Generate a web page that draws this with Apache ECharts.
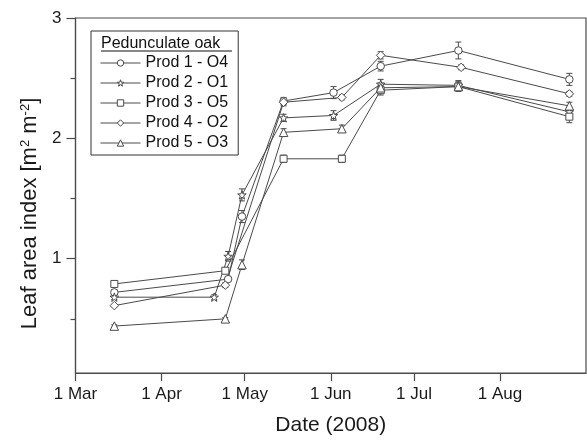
<!DOCTYPE html>
<html>
<head>
<meta charset="utf-8">
<script src="https://cdn.jsdelivr.net/npm/echarts@6/dist/echarts.min.js"></script>
<style>
  html, body { margin: 0; padding: 0; background: #fff; }
  #chart { width: 587px; height: 441px; }
</style>
</head>
<body>
<div id="chart"></div>
<script>
// Leaf area index of pedunculate oak, five productivity plots, season 2008

const seriesNames = ['Prod 1 - O4', 'Prod 2 - O1', 'Prod 3 - O5', 'Prod 4 - O2', 'Prod 5 - O3'];

const prod1Dates  = ['2008-03-15', '2008-04-25', '2008-04-30', '2008-05-15', '2008-06-02', '2008-06-19', '2008-07-17', '2008-08-26'];
const prod1Values = [0.72, 0.83, 1.35, 2.31, 2.38, 2.60, 2.73, 2.49];
const prod1Err    = [0.02, 0.02, 0.05, 0.03, 0.05, 0.04, 0.07, 0.05];

const prod2Dates  = ['2008-03-15', '2008-04-20', '2008-04-25', '2008-04-30', '2008-05-15', '2008-06-02', '2008-06-19', '2008-07-17', '2008-08-26'];
const prod2Values = [0.68, 0.68, 1.02, 1.53, 2.17, 2.19, 2.45, 2.44, 2.22];
const prod2Err    = [0.02, 0.02, 0.04, 0.05, 0.03, 0.04, 0.04, 0.04, 0.04];

const prod3Dates  = ['2008-03-15', '2008-04-24', '2008-05-15', '2008-06-05', '2008-06-19', '2008-07-17', '2008-08-26'];
const prod3Values = [0.79, 0.90, 1.83, 1.83, 2.40, 2.43, 2.18];
const prod3Err    = [0.01, 0.02, 0.03, 0.03, 0.04, 0.04, 0.05];

const prod4Dates  = ['2008-03-15', '2008-04-24', '2008-05-15', '2008-06-05', '2008-06-19', '2008-07-18', '2008-08-26'];
const prod4Values = [0.61, 0.78, 2.30, 2.34, 2.69, 2.59, 2.37];
const prod4Err    = [0.01, 0.02, 0.03, 0.02, 0.03, 0.02, 0.02];

const prod5Dates  = ['2008-03-15', '2008-04-24', '2008-04-30', '2008-05-15', '2008-06-05', '2008-06-19', '2008-07-17', '2008-08-26'];
const prod5Values = [0.44, 0.50, 0.95, 2.05, 2.08, 2.42, 2.43, 2.27];
const prod5Err    = [0.01, 0.01, 0.04, 0.03, 0.03, 0.04, 0.03, 0.03];

// Month ticks on the date axis
const monthTickDates  = ['2008-03-01', '2008-04-01', '2008-05-01', '2008-06-01', '2008-07-01', '2008-08-01'];
const monthTickLabels = ['1 Mar', '1 Apr', '1 May', '1 Jun', '1 Jul', '1 Aug'];

// Leaf area index ticks
const yMajorTicks = [1, 2, 3];
const yMinorTicks = [0.5, 1.5, 2.5];

const toTime = s => {
  const [y, m, d] = s.split('-').map(Number);
  return new Date(y, m - 1, d).getTime();
};
const monthTickTimes = monthTickDates.map(toTime);

const INK = '#4a4a4a';
const FONT = 'Liberation Sans';

const starPath = 'path://M50,2 L61.8,36.2 L97.6,36.2 L68.6,57.4 L79.4,91.6 L50,70.6 L20.6,91.6 L31.4,57.4 L2.4,36.2 L38.2,36.2 Z';

const groups = [
  { dates: prod1Dates, values: prod1Values, err: prod1Err, symbol: 'circle',   size: 7.5 },
  { dates: prod2Dates, values: prod2Values, err: prod2Err, symbol: starPath,   size: 8.5 },
  { dates: prod3Dates, values: prod3Values, err: prod3Err, symbol: 'rect',     size: 7 },
  { dates: prod4Dates, values: prod4Values, err: prod4Err, symbol: 'diamond',  size: 8.5 },
  { dates: prod5Dates, values: prod5Values, err: prod5Err, symbol: 'triangle', size: 8.5 }
];

function renderErrorBar(params, api) {
  const t = api.value(0), v = api.value(1), e = api.value(2);
  const hi = api.coord([t, v + e]);
  const lo = api.coord([t, v - e]);
  const w = 3;
  const st = { stroke: INK, lineWidth: 1 };
  return {
    type: 'group',
    children: [
      { type: 'line', shape: { x1: hi[0], y1: hi[1], x2: lo[0], y2: lo[1] }, style: st },
      { type: 'line', shape: { x1: hi[0] - w, y1: hi[1], x2: hi[0] + w, y2: hi[1] }, style: st },
      { type: 'line', shape: { x1: lo[0] - w, y1: lo[1], x2: lo[0] + w, y2: lo[1] }, style: st }
    ]
  };
}

const series = [];
groups.forEach((g, i) => {
  series.push({
    id: 'err' + i,
    type: 'custom',
    renderItem: renderErrorBar,
    encode: { x: 0, y: 1 },
    data: g.dates.map((d, k) => [toTime(d), g.values[k], g.err[k]]),
    z: 1,
    silent: true
  });
});
groups.forEach((g, i) => {
  series.push({
    name: seriesNames[i],
    type: 'line',
    data: g.dates.map((d, k) => [toTime(d), g.values[k]]),
    symbol: g.symbol,
    symbolSize: g.size,
    showSymbol: true,
    lineStyle: { color: INK, width: 1 },
    itemStyle: { color: '#fff', borderColor: INK, borderWidth: 1 },
    z: 3
  });
});

const chart = echarts.init(document.getElementById('chart'), null, { renderer: 'canvas' });

chart.setOption({
  animation: false,
  backgroundColor: '#fff',
  textStyle: { fontFamily: FONT },
  grid: {
    left: 75.5, right: 1, top: 18, bottom: 64,
    show: true, borderColor: INK, borderWidth: 1.2, backgroundColor: 'transparent'
  },
  xAxis: {
    type: 'value',
    min: toTime('2008-03-01'),
    max: toTime('2008-09-01'),
    name: 'Date (2008)',
    nameLocation: 'middle',
    nameGap: 42,
    nameTextStyle: { fontSize: 21, color: '#1a1a1a', fontFamily: FONT },
    axisLine: { lineStyle: { color: INK, width: 1.2 } },
    axisTick: {
      show: true, inside: false, length: 8,
      lineStyle: { color: INK, width: 1.2 },
      customValues: monthTickTimes
    },
    axisLabel: {
      margin: 13,
      fontSize: 17,
      color: '#1a1a1a',
      fontFamily: FONT,
      customValues: monthTickTimes,
      formatter: value => {
        const k = monthTickTimes.indexOf(value);
        return k >= 0 ? monthTickLabels[k] : '';
      }
    },
    splitLine: { show: false }
  },
  yAxis: [
    {
      type: 'value',
      min: 0.05,
      max: 3,
      name: 'Leaf area index [m{sup|2} m{sup|-2}]',
      nameLocation: 'middle',
      nameGap: 33,
      nameTextStyle: {
        fontSize: 22, color: '#1a1a1a', fontFamily: FONT,
        padding: [0, 36, 0, 0],
        rich: { sup: { fontSize: 13, verticalAlign: 'top', fontFamily: FONT, color: '#1a1a1a' } }
      },
      axisLine: { show: true, lineStyle: { color: INK, width: 1.2 } },
      axisTick: {
        show: true, inside: false, length: 9,
        lineStyle: { color: INK, width: 1.2 },
        customValues: yMajorTicks
      },
      axisLabel: {
        margin: 14, fontSize: 17, color: '#1a1a1a', fontFamily: FONT,
        customValues: yMajorTicks
      },
      splitLine: { show: false }
    },
    {
      type: 'value',
      min: 0.05,
      max: 3,
      position: 'left',
      axisLine: { show: false },
      axisTick: {
        show: true, inside: false, length: 5,
        lineStyle: { color: INK, width: 1.2 },
        customValues: yMinorTicks
      },
      axisLabel: { show: false },
      splitLine: { show: false }
    }
  ],
  legend: {
    orient: 'vertical',
    left: 91,
    top: 31,
    data: seriesNames,
    itemWidth: 40,
    itemHeight: 8,
    itemGap: 4,
    padding: [24, 10, 4, 9],
    borderColor: '#333',
    borderWidth: 1,
    backgroundColor: '#fff',
    selectedMode: false,
    lineStyle: { color: INK, width: 1 },
    itemStyle: { color: '#fff', borderColor: INK, borderWidth: 1 },
    textStyle: { fontSize: 16, lineHeight: 15, color: '#111', fontFamily: FONT }
  },
  graphic: [
    {
      type: 'text',
      left: 101, top: 36,
      z: 100,
      style: { text: 'Pedunculate oak', fontSize: 16, fontFamily: FONT, fill: '#111' }
    },
    {
      type: 'line',
      z: 100,
      shape: { x1: 101, y1: 51, x2: 232, y2: 51 },
      style: { stroke: '#111', lineWidth: 1 }
    }
  ],
  series: series
});
</script>
</body>
</html>
